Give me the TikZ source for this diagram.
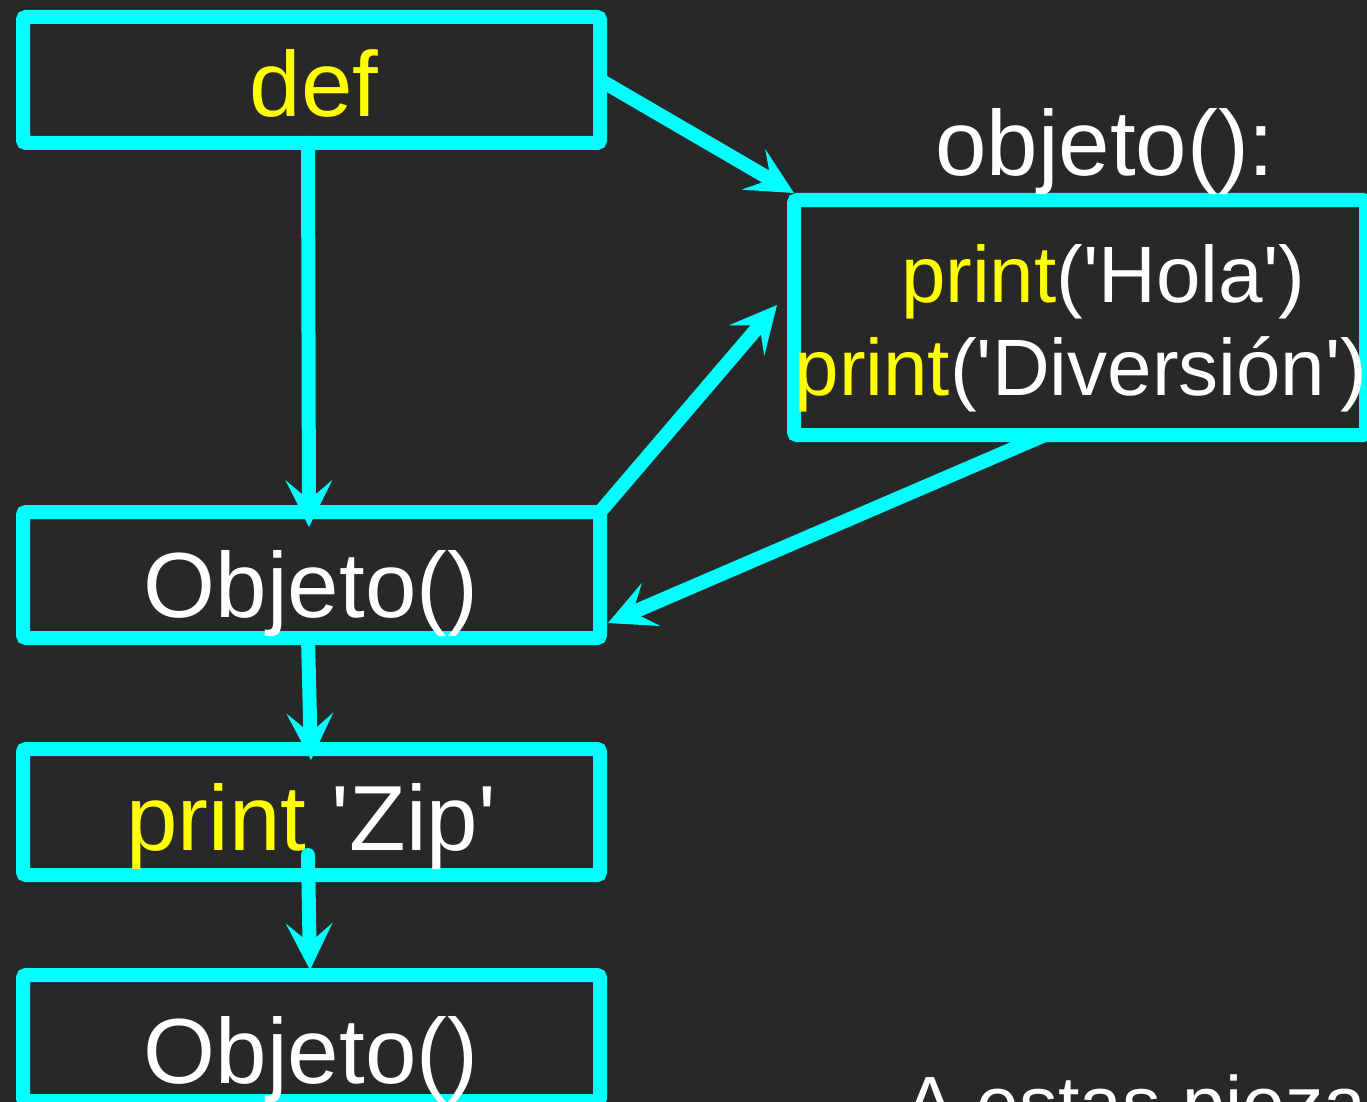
\documentclass[tikz,border=0pt]{standalone}
\usepackage{fontspec}
\setmainfont{Liberation Sans}
\usetikzlibrary{arrows.meta}
\definecolor{bg}{HTML}{282828}
\definecolor{cy}{HTML}{00FFFF}
\definecolor{yl}{HTML}{FFFF00}
\newcommand\qq{\textquotesingle}
\begin{document}
\begin{tikzpicture}[x=1pt,y=-1pt,
  box/.style={draw=cy, line width=14pt, rounded corners=3pt, inner sep=0pt, outer sep=0pt, minimum width=577pt, minimum height=126pt},
  conn/.style={draw=cy, line width=14pt, line cap=round, -{Stealth[length=47pt,width=47pt,inset=20pt,line width=0pt]}},
  big/.style={font=\fontsize{92.5}{100}\selectfont, text=white, inner sep=0pt, anchor=base},
  mid/.style={font=\fontsize{80}{90}\selectfont, text=white, inner sep=0pt, anchor=base},
]
\fill[bg] (0,0) rectangle (1367,1102);
\useasboundingbox (0,0) rectangle (1367,1102);
\clip (0,0) rectangle (1367,1102);

% boxes
\node[box] (defbox) at (311.5,80) {};
\node[box] (obj1) at (311.5,575) {};
\node[box] (zipbox) at (311.5,812) {};
\node[box] (obj2) at (311.5,1038) {};
\node[box, minimum width=572pt, minimum height=235pt] (rbox) at (1080,317.5) {};

% texts
\node[big, text=yl] (deftxt) at (314,117) {def};
\node[big] (o1txt) at (311,617) {Objeto()};
\node[big] (o2txt) at (311,1083) {Objeto()};
\node[big] (objtxt) at (1105,176) {objeto():};
\node[mid] (hola) at (1103,302) {\textcolor{yl}{print}(\qq Hola\qq)};
\node[mid] (div) at (1081,395) {\textcolor{yl}{print}(\qq Diversión\qq)};
\node[big] (ziptxt) at (311,850) {\textcolor{yl}{print} \qq Zip\qq};
\node[mid, font=\fontsize{77}{90}\selectfont, anchor=base west] (piezas) at (904,1130) {A estas piezas};

% connectors
\draw[conn] ([xshift=-3.5pt]defbox.south) -- ([xshift=-2.5pt,yshift=-15pt]obj1.north);
\draw[conn] (defbox.east) -- ([yshift=7pt]rbox.north west);
\draw[conn] (obj1.north east) -- ([xshift=-17pt,yshift=12.5pt]rbox.west);
\draw[conn] ([xshift=-35pt]rbox.south) -- ([xshift=8pt,yshift=-48pt]obj1.east);
\draw[conn] ([xshift=-3.5pt]obj1.south) -- ([xshift=-0.5pt,yshift=-11pt]zipbox.north);
\draw[conn] ([xshift=-3.5pt,yshift=-43pt]zipbox.center) -- ([xshift=-1.5pt,yshift=5pt]obj2.north);
\end{tikzpicture}
\end{document}
